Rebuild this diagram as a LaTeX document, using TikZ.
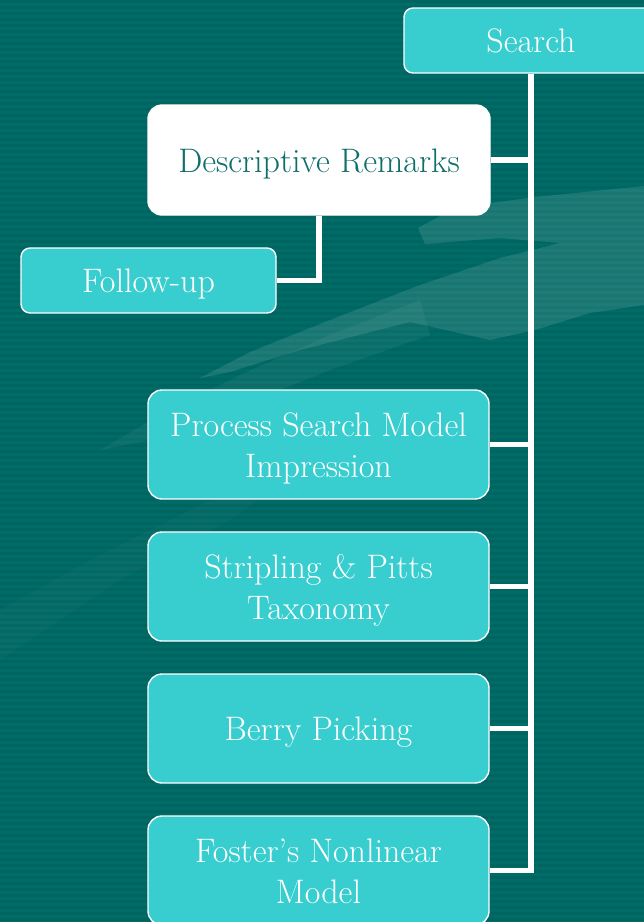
\documentclass[tikz,border=0pt]{standalone}
\usepackage{tikz}
\definecolor{bgteal}{HTML}{006C68}
\definecolor{bgstripe}{HTML}{006460}
\definecolor{boxcyan}{HTML}{38CDCE}
\definecolor{darkteal}{HTML}{0E6E6A}
% fixed heights so every label sits at the same place in its box
\newcommand{\boxstrut}{\rule[-7pt]{0pt}{38pt}}
\newcommand{\topstrut}{\rule{0pt}{73pt}}
\tikzset{
  topicbox/.style={draw=white, line width=1.4pt, fill=boxcyan, text=white,
    rounded corners=14pt, minimum width=341pt, minimum height=109pt,
    inner sep=0pt, align=center, font=\fontsize{34}{41}\selectfont,
    execute at begin node=\boxstrut, execute at end node=\boxstrut},
  twoline/.style={execute at begin node=\topstrut},
  smallbox/.style={topicbox, rounded corners=9pt, minimum height=65pt},
  notebox/.style={topicbox, fill=white, text=darkteal},
  link/.style={draw=white, line width=5.5pt, line join=miter}
}
\begin{document}
\begin{tikzpicture}[x=1pt, y=-1pt]
\useasboundingbox (0,0) rectangle (644,922);
\begin{scope}
\clip (0,0) rectangle (644,922);
% striped teal background
\fill[bgteal] (0,0) rectangle (644,922);
\foreach \i in {0,...,153}
  \fill[bgstripe] (0,\i*6) rectangle (644,\i*6+3);
% faint swoosh across the middle
\fill[white, opacity=0.11]
  (644,186) -- (535,197) -- (455,208) -- (418,228) -- (425,244) -- (500,238)
  -- (560,243) -- (500,258) -- (420,285) -- (330,320) -- (250,352) -- (200,378)
  -- (230,372) -- (300,350) -- (410,322)
  -- (490,340) -- (535,330) -- (590,313) -- (644,305) -- cycle;
\fill[white, opacity=0.05]
  (420,300) -- (330,335) -- (240,375) -- (160,415) -- (100,450) -- (150,440)
  -- (230,410) -- (330,370) -- (430,335) -- cycle;
\fill[bgteal, opacity=0.5]
  (560,243) -- (470,262) -- (420,270) -- (500,252) -- cycle;
\fill[white, opacity=0.025]
  (0,610) -- (90,560) -- (200,505) -- (320,455) -- (230,520) -- (120,580) -- (0,660) -- cycle;

% nodes
\node[smallbox, minimum width=254pt] (search) at (531,40.5) {Search};
\node[notebox, minimum width=342pt, minimum height=110pt] (dr) at (319,160) {Descriptive Remarks};
\node[smallbox, minimum width=255pt] (fu) at (148.5,280.5) {Follow-up};
\node[topicbox, twoline] (psm) at (318.5,444.5) {Process Search Model\\Impression};
\node[topicbox, twoline] (sp) at (318.5,586.5) {Stripling \& Pitts\\Taxonomy};
\node[topicbox] (bp) at (318.5,728.5) {Berry Picking};
\node[topicbox, twoline] (fn) at (318.5,870.5) {Foster’s Nonlinear\\Model};

% connectors
\draw[link] (search.south) |- (dr.east);
\draw[link] (search.south) |- (psm.east);
\draw[link] (search.south) |- (sp.east);
\draw[link] (search.south) |- (bp.east);
\draw[link] (search.south) |- (fn.east);
\draw[link] (dr.south) |- (fu.east);
\end{scope}
\end{tikzpicture}
\end{document}
